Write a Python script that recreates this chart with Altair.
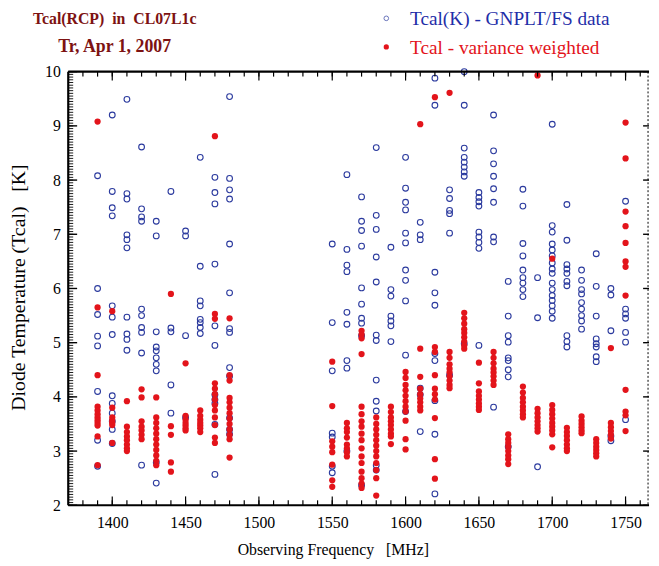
import altair as alt
import pandas as pd
import numpy as np

# ---------------- data ----------------
freqs = [1390, 1400, 1410, 1420, 1430, 1440, 1450, 1460, 1470, 1480,
         1550, 1560, 1570, 1580, 1590, 1600, 1610, 1620, 1630, 1640,
         1650, 1660, 1670, 1680, 1690, 1700, 1710, 1720, 1730, 1740, 1750]

blue_vals = [
    [8.08, 6.0, 5.52, 5.12, 4.94, 4.1, 3.2, 2.72],
    [9.2, 7.79, 7.49, 7.34, 5.68, 5.47, 5.15, 4.02, 3.88, 3.7, 3.55, 3.4, 3.14],
    [9.49, 7.75, 7.65, 6.99, 6.9, 6.75, 5.47, 5.16, 5.06, 4.86],
    [8.61, 7.47, 7.32, 7.24, 5.62, 5.5, 5.28, 5.19, 4.81, 2.74],
    [7.24, 6.97, 5.2, 4.92, 4.85, 4.72, 4.6, 4.48, 2.79, 2.41],
    [7.79, 5.27, 5.2, 4.22, 3.7],
    [7.06, 6.97, 5.13, 3.62],
    [8.42, 6.41, 5.77, 5.68, 5.43, 5.37, 5.28, 5.17],
    [8.05, 7.77, 7.56, 6.45, 5.31, 4.95, 4.04, 3.95, 3.88, 3.49, 2.57],
    [9.54, 8.03, 7.82, 7.65, 6.82, 5.92, 5.26, 5.19, 4.54, 4.38, 3.61, 3.4, 3.31],
    [6.82, 5.37, 4.48, 3.33, 3.26, 2.72, 2.6],
    [8.1, 6.72, 6.43, 6.31, 5.56, 5.34, 4.67, 4.53, 3.0],
    [7.69, 7.24, 7.07, 6.78, 6.01, 5.71, 5.45, 5.36, 5.13, 2.37],
    [8.6, 7.35, 7.09, 6.58, 6.12, 5.14, 5.04, 4.31, 3.92, 3.74, 2.74, 2.65],
    [6.76, 5.98, 5.86, 5.49, 5.4, 5.31, 5.02],
    [8.42, 7.85, 7.59, 7.45, 7.02, 6.84, 6.34, 6.15, 5.77, 4.77, 3.73],
    [7.22, 6.99, 6.9, 4.16, 4.04, 3.36],
    [9.88, 9.38, 6.3, 5.92, 5.69, 4.8, 4.67, 3.93, 3.31, 2.21],
    [7.82, 7.66, 7.44, 7.38, 7.02, 4.4],
    [10.0, 9.38, 8.59, 8.42, 8.33, 8.24, 8.15, 8.07, 4.98],
    [7.77, 7.68, 7.6, 7.52, 7.04, 6.95, 6.85, 6.74, 4.95],
    [9.2, 8.54, 8.3, 8.07, 7.84, 7.59, 6.95, 6.86, 3.81],
    [6.13, 5.49, 5.13, 5.01, 4.72, 4.67, 4.5, 4.37, 3.08],
    [7.83, 7.52, 6.83, 6.6, 6.34, 6.2, 6.1, 5.98, 5.85],
    [6.2, 5.46, 2.71],
    [9.03, 7.16, 7.04, 6.82, 6.71, 6.6, 6.47, 6.36, 6.28, 6.1, 5.98, 5.87, 5.78, 5.68, 5.58, 5.45],
    [7.55, 6.89, 6.44, 6.36, 6.28, 6.13, 6.05, 5.13, 5.02, 4.92],
    [6.34, 6.15, 5.98, 5.9, 5.74, 5.62, 5.5, 5.4, 5.25],
    [6.64, 6.04, 5.49, 5.07, 4.98, 4.92, 4.74, 4.65],
    [6.0, 5.88, 5.22, 3.28, 3.19],
    [7.61, 5.62, 5.53, 5.45, 5.19, 5.01, 3.58],
]

red_vals = [
    [9.08, 5.65, 4.40, 3.82, 3.75, 3.68, 3.62, 3.57, 3.52, 3.47, 3.27, 2.74],
    [5.58, 3.8, 3.62, 3.56, 3.52, 3.48, 3.15],
    [3.92, 3.45, 3.35, 3.27, 3.2, 3.12, 3.05, 3.0],
    [4.14, 3.99, 3.55, 3.45, 3.38, 3.3, 3.22],
    [3.99, 3.62, 3.52, 3.42, 3.32, 3.22, 3.12, 3.02, 2.92, 2.82, 2.74],
    [5.9, 3.46, 3.3, 2.79, 2.62],
    [4.62, 3.65, 3.58, 3.52, 3.47, 3.42, 3.38],
    [3.75, 3.65, 3.58, 3.52, 3.47, 3.42, 3.35],
    [8.81, 5.53, 5.44, 4.25, 4.15, 4.05, 3.95, 3.85, 3.75, 3.62, 3.48, 3.25, 3.15],
    [5.45, 4.4, 4.3, 3.98, 3.9, 3.8, 3.7, 3.6, 3.5, 3.4, 3.3, 3.22, 2.88],
    [4.65, 3.83, 3.18, 3.08, 2.98, 2.75, 2.46, 2.34],
    [3.52, 3.42, 3.35, 3.25, 3.12, 3.05, 2.98, 2.9],
    [5.22, 5.15, 5.08, 4.79, 3.82, 3.68, 3.55, 3.45, 3.32, 3.2, 3.05, 2.9, 2.78, 2.62, 2.5, 2.4, 2.32],
    [3.62, 3.5, 3.4, 3.3, 3.2, 3.1, 3.0, 2.9, 2.78, 2.65, 2.5, 2.18],
    [3.82, 3.72, 3.62, 3.55, 3.48, 3.4, 3.32, 3.27, 3.13],
    [4.46, 4.35, 4.22, 4.12, 4.02, 3.92, 3.82, 3.73, 3.56, 3.22, 3.03],
    [9.03, 4.89, 4.37, 4.15, 4.05, 3.97, 3.9, 3.82, 3.75],
    [9.53, 4.92, 4.83, 4.4, 4.15, 4.05, 3.95, 3.61, 2.85, 2.49],
    [9.61, 4.83, 4.72, 4.6, 4.52, 4.45, 4.38, 4.3, 4.22, 4.16],
    [5.55, 5.45, 5.35, 5.25, 5.18, 5.1, 5.02, 4.95, 4.89],
    [4.63, 4.25, 4.1, 4.02, 3.95, 3.88, 3.82, 3.76],
    [4.83, 4.72, 4.62, 4.52, 4.45, 4.38, 4.3, 4.22],
    [3.31, 3.22, 3.15, 3.08, 3.0, 2.92, 2.85, 2.76],
    [4.19, 4.08, 3.98, 3.9, 3.82, 3.75, 3.68, 3.62],
    [9.93, 3.78, 3.7, 3.62, 3.55, 3.48, 3.42, 3.36],
    [6.55, 3.85, 3.76, 3.68, 3.6, 3.52, 3.45, 3.38, 3.31, 3.07],
    [3.43, 3.35, 3.28, 3.2, 3.12, 3.05, 3.0],
    [3.64, 3.56, 3.5, 3.44, 3.38, 3.33],
    [3.22, 3.15, 3.08, 3.02, 2.96, 2.9],
    [4.9, 3.52, 3.44, 3.37, 3.3, 3.23],
    [9.06, 8.4, 7.42, 7.15, 6.84, 6.5, 6.4, 5.87, 4.13, 3.73, 3.66, 3.37],
]

x_major = [1400, 1450, 1500, 1550, 1600, 1650, 1700, 1750]
y_major = [2, 3, 4, 5, 6, 7, 8, 9, 10]
x_domain = [1370, 1766]
y_domain = [2, 10]

NB = "\u00a0"
title_lines = ["Tcal(RCP)" + NB * 2 + "in" + NB * 2 + "CL07L1c", "Tr, Apr 1, 2007"]
legend_labels = ["Tcal(K) - GNPLT/FS data", "Tcal - variance weighted"]
x_title = "Observing Frequency" + NB * 3 + "[MHz]"
y_title = "Diode Temperature (Tcal)" + NB * 3 + "[K]"

# ---------------- tables ----------------
blue_df = pd.DataFrame([{"f": f, "t": v} for f, vs in zip(freqs, blue_vals) for v in vs])
red_df = pd.DataFrame([{"f": f, "t": v} for f, vs in zip(freqs, red_vals) for v in vs])

x_minor = pd.DataFrame({"f": np.arange(1380, 1761, 10)})
x_maj = pd.DataFrame({"f": x_major})
y_minor = pd.DataFrame({"t": np.round(np.arange(2.0, 10.001, 0.05), 2)})
y_maj = pd.DataFrame({"t": y_major})

W, H = 588, 439
SERIF = "Liberation Serif"
BLUE = "#2b3a9e"
RED = "#e3141b"
DARKRED = "#7d1212"

xs = alt.Scale(domain=x_domain, nice=False, zero=False)
ys = alt.Scale(domain=y_domain, nice=False, zero=False)

x_axis = alt.Axis(values=x_major, format="d", ticks=False, domain=False, grid=False,
                  labelFont=SERIF, labelFontSize=16, labelColor="black",
                  labelPadding=9, title=x_title,
                  titleFont=SERIF, titleFontSize=16, titleFontWeight="normal",
                  titleColor="black", titleAnchor="start", titleAlign="left",
                  titleBaseline="middle", titleX=171, titleY=45)
y_axis = alt.Axis(values=y_major, format="d", ticks=False, domain=False, grid=False,
                  labelFont=SERIF, labelFontSize=16, labelColor="black",
                  labelPadding=8, title=y_title,
                  titleFont=SERIF, titleFontSize=20, titleFontWeight="normal",
                  titleColor="black", titleAngle=270, titleAlign="center",
                  titleBaseline="middle", titleX=-50, titleY=218)

X = alt.X("f:Q", scale=xs, axis=x_axis, title=x_title)
Y = alt.Y("t:Q", scale=ys, axis=y_axis, title=y_title)

blue_pts = alt.Chart(blue_df).mark_point(
    shape="circle", filled=False, size=34, strokeWidth=1.1, color=BLUE, opacity=1
).encode(x=X, y=Y)

red_pts = alt.Chart(red_df).mark_circle(size=40, color=RED, opacity=1).encode(x=X, y=Y)

def xticks(df, length, top):
    if top:
        y1, y2 = 0, length
    else:
        y1, y2 = H, H - length
    return alt.Chart(df).mark_rule(color="black", strokeWidth=1.2).encode(
        x=X, y=alt.value(y1), y2=alt.value(y2))

def yticks(df, x1, x2, width=1.0):
    return alt.Chart(df).mark_rule(color="black", strokeWidth=width).encode(
        y=Y, x=alt.value(x1), x2=alt.value(x2))

one = alt.Data(values=[{"a": 1}])
frame_left = alt.Chart(one).mark_rule(color="black", strokeWidth=2.2).encode(
    x=alt.value(0), y=alt.value(0), y2=alt.value(H))
frame_top = alt.Chart(one).mark_rule(color="black", strokeWidth=2.2).encode(
    y=alt.value(0), x=alt.value(0), x2=alt.value(W))
frame_bottom = alt.Chart(one).mark_rule(color="black", strokeWidth=2.2).encode(
    y=alt.value(H), x=alt.value(0), x2=alt.value(W))
frame_right = alt.Chart(one).mark_rule(color="black", strokeWidth=1, strokeDash=[2, 2]).encode(
    x=alt.value(W - 1), y=alt.value(0), y2=alt.value(H))

t1 = alt.Chart(alt.Data(values=[{"s": title_lines[0]}])).mark_text(
    font=SERIF, fontSize=16, fontWeight="bold", color=DARKRED, align="center", baseline="middle"
).encode(text="s:N", x=alt.value(47), y=alt.value(-53))
t2 = alt.Chart(alt.Data(values=[{"s": title_lines[1]}])).mark_text(
    font=SERIF, fontSize=18, fontWeight="bold", color=DARKRED, align="center", baseline="middle"
).encode(text="s:N", x=alt.value(47), y=alt.value(-25))

leg_sym1 = alt.Chart(one).mark_point(shape="circle", filled=False, size=22, strokeWidth=1, color=BLUE).encode(
    x=alt.value(322), y=alt.value(-54))
leg_sym2 = alt.Chart(one).mark_circle(size=28, color=RED, opacity=1).encode(
    x=alt.value(322), y=alt.value(-25))
leg_t1 = alt.Chart(alt.Data(values=[{"s": legend_labels[0]}])).mark_text(
    font=SERIF, fontSize=19.5, color="#1f2ea8", align="left", baseline="middle"
).encode(text="s:N", x=alt.value(346), y=alt.value(-53))
leg_t2 = alt.Chart(alt.Data(values=[{"s": legend_labels[1]}])).mark_text(
    font=SERIF, fontSize=19.5, color=RED, align="left", baseline="middle"
).encode(text="s:N", x=alt.value(346), y=alt.value(-24))

chart = alt.layer(
    blue_pts, red_pts,
    xticks(x_minor, 5, False), xticks(x_maj, 9, False),
    xticks(x_minor, 5, True), xticks(x_maj, 9, True),
    yticks(y_minor, 0, 5, 0.9), yticks(y_maj, 0, 9, 1.4),
    yticks(y_maj, W - 6, W, 1.4),
    frame_left, frame_top, frame_bottom, frame_right,
    t1, t2, leg_sym1, leg_sym2, leg_t1, leg_t2,
).properties(
    width=W, height=H,
    autosize=alt.AutoSizeParams(type="none"),
    padding={"left": 61, "top": 61, "right": 2, "bottom": 57},
    background="white",
).configure_view(stroke=None)

chart.save("out.html", embed_options={"renderer": "svg", "actions": False})
